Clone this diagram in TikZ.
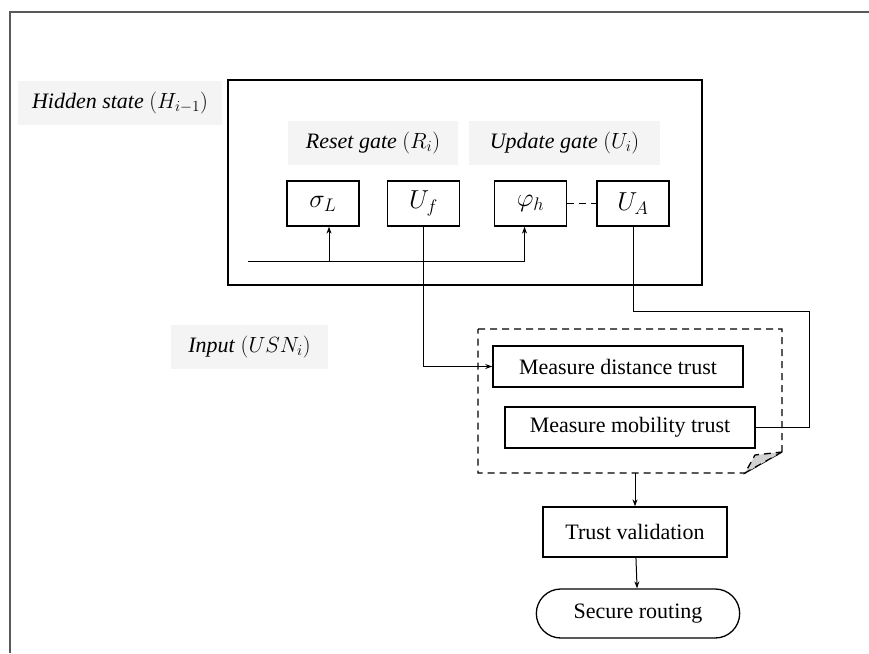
\RequirePackage{fix-cm}
\documentclass[tikz,border=0pt]{standalone}
\usepackage{fontspec}
\setmainfont{Liberation Serif}
\usetikzlibrary{arrows.meta,shapes.misc}

\begin{document}
\begin{tikzpicture}[x=1pt,y=-1pt,
  font=\fontsize{22}{26}\selectfont,
  >={Stealth[length=7pt,width=5pt]},
  tag/.style={fill=gray!9, minimum height=44pt, inner sep=0pt},
  gatebox/.style={draw, line width=1.3pt, minimum width=72pt, minimum height=45pt, inner sep=0pt,
    font=\fontsize{26}{30}\selectfont},
  trustbox/.style={draw, line width=1.5pt, minimum width=250pt, minimum height=41pt, inner sep=0pt},
  longdash/.style={dash pattern=on 7pt off 5pt},
  link/.style={line width=1pt}]
\useasboundingbox (0,0) rectangle (869,653);

% frame
\draw[line width=2pt, gray!70!black] (10,653) -- (10,12) -- (869,12);

% hidden state block
\node[tag, minimum width=204pt] (hlabel) at (120,102.5) {\textit{Hidden state} $(H_{i-1})$};
\node[draw, line width=1.3pt, minimum width=474pt, minimum height=205pt] (hidden) at (465,182.5) {};
\node[tag, minimum width=170pt] (reset) at (373,143) {\textit{Reset gate} $(R_i)$};
\node[tag, minimum width=191pt] (update) at (564.5,143) {\textit{Update gate} $(U_i)$};

\node[gatebox] (sigma) at (323,203.5) {$\sigma_L$};
\node[gatebox] (uf) at (423.5,203.5) {$U_f$};
\node[gatebox] (phi) at (530.5,203.5) {$\varphi_h$};
\node[gatebox] (ua) at (633,203.5) {$U_A$};
\draw[link, longdash] (phi) -- (ua);

\coordinate (bus) at (248,261);
\draw[link, ->] (bus) -| ([xshift=-6pt]phi.south);
\draw[link, ->] ([xshift=6pt]sigma.south |- bus) -- ([xshift=6pt]sigma.south);

% input side
\node[tag, minimum width=157pt] (input) at (249.5,347) {\textit{Input} $(USN_i)$};

\draw[line width=1.3pt, longdash] (478,329) -- (782,329) -- (782,452) -- (745,473) -- (478,473) -- cycle;
\filldraw[line width=1.3pt, longdash, fill=gray!35] (782,452) -- (745,473) -- (755,455) -- cycle;
\coordinate (group) at (635,473);

\node[trustbox] (dist) at (618,366.5) {Measure distance trust};
\node[trustbox] (mob) at (630,427.5) {Measure mobility trust};

\draw[link, ->] (uf.south) |- (dist.west);
\coordinate (bend) at (809,311);
\draw[link] (ua.south) |- (bend) |- (mob.east);

% output
\node[draw, line width=1.3pt, minimum width=184pt, minimum height=50pt] (trust) at (635,532) {Trust validation};
\node[draw, line width=1.3pt, rounded rectangle, minimum width=210pt, minimum height=49pt] (route) at (638,613.5) {Secure routing};
\draw[link, ->] (group) -- (trust);
\draw[link, ->] (trust) -- (route);
\end{tikzpicture}
\end{document}
